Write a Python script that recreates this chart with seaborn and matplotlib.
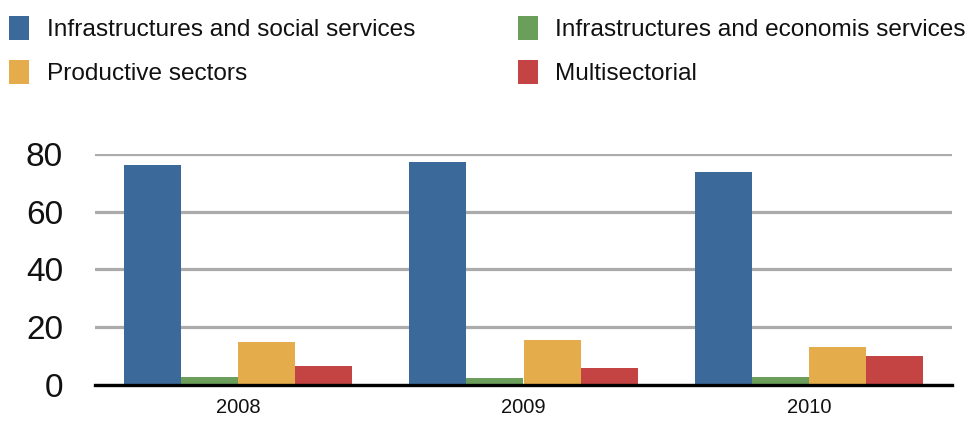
import numpy as np
import pandas as pd
import matplotlib
matplotlib.use("Agg")
import matplotlib.pyplot as plt
import seaborn as sns

# data
years = ["2008", "2009", "2010"]
social = [76.0, 77.0, 73.8]
economic = [2.6, 2.3, 2.6]
productive = [14.9, 15.5, 13.3]
multi = [6.5, 6.0, 10.1]

series_names = ["Infrastructures and social services",
                "Infrastructures and economis services",
                "Productive sectors",
                "Multisectorial"]
colors = ["#3B6A9A", "#6A9E5A", "#E5AC4C", "#C34442"]

df = pd.DataFrame({
    "year": years * 4,
    "value": social + economic + productive + multi,
    "series": [s for s in series_names for _ in years],
})

sns.set_style("white")
plt.rcParams['font.family'] = ['Liberation Sans', 'DejaVu Sans']

fig = plt.figure(figsize=(9.7, 4.23), dpi=100)
ax = fig.add_axes([95/970, 1 - 385/423, (952 - 95)/970, (385 - 153.7)/423])

sns.barplot(data=df, x="year", y="value", hue="series", hue_order=series_names,
            palette=colors, width=0.8, linewidth=0, saturation=1, ax=ax)

ax.set_ylim(0, 80)
ax.set_xlim(-0.5, 2.5)
ax.set_yticks([0, 20, 40, 60, 80])
ax.set_xlabel("")
ax.set_ylabel("")
ax.yaxis.grid(True, color="#ababab", linewidth=2.3)
ax.set_axisbelow(True)
for s in ["left", "right", "top"]:
    ax.spines[s].set_visible(False)
ax.spines["bottom"].set_color("black")
ax.spines["bottom"].set_linewidth(2.4)
ax.spines["bottom"].set_zorder(5)
ax.tick_params(axis="y", length=0, pad=23, labelsize=24, labelcolor="#111111")
ax.tick_params(axis="x", length=0, pad=9, labelsize=14.5, labelcolor="#111111")

# legend at top, two columns (social/productive left, economis/multi right)
handles, labels = ax.get_legend_handles_labels()
ax.get_legend().remove()
order = [0, 2, 1, 3]
leg = fig.legend([handles[i] for i in order], [labels[i] for i in order],
                 loc="upper left", bbox_to_anchor=(-0.008, 1.002), ncol=2,
                 frameon=False, fontsize=17.6, handlelength=0.82, handleheight=1.1,
                 handletextpad=0.7, columnspacing=4.2, labelspacing=0.78,
                 borderaxespad=0.3)
for t in leg.get_texts():
    t.set_color("#111111")

fig.savefig("out.png", dpi=100)
